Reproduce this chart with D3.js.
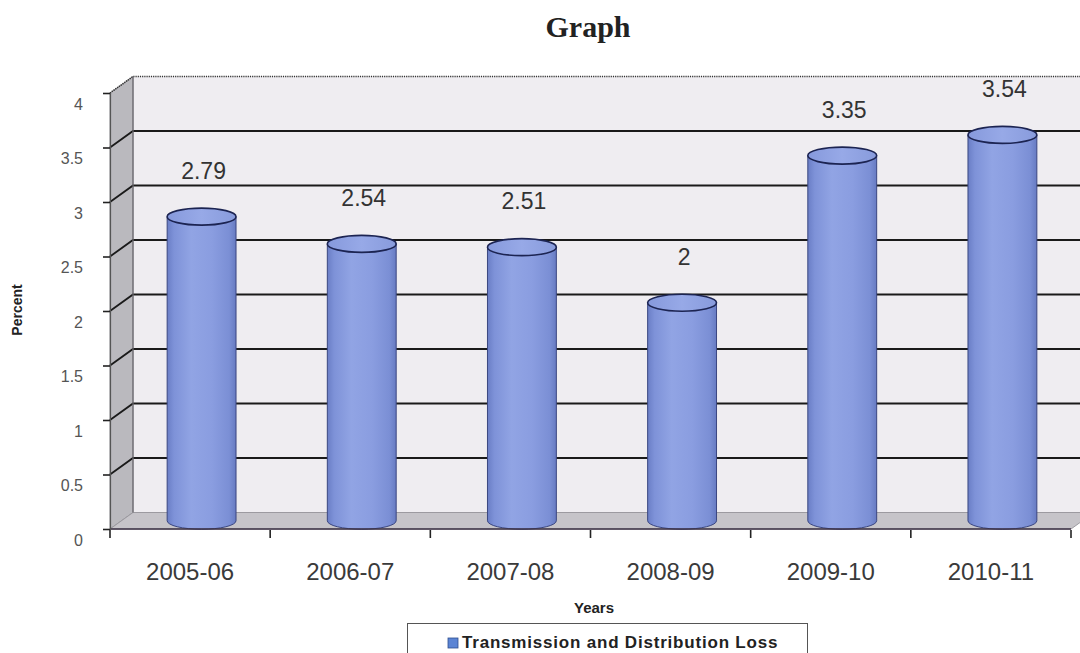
<!DOCTYPE html>
<html>
<head>
<meta charset="utf-8">
<script src="https://cdn.jsdelivr.net/npm/d3@7/dist/d3.min.js"></script>
<style>
  html, body { margin: 0; padding: 0; background: #fff; }
  svg { display: block; }
</style>
</head>
<body>
<svg id="chart" width="1080" height="653"></svg>
<script>
// Transmission and distribution loss by year (percent)
const categories = ["2005-06", "2006-07", "2007-08", "2008-09", "2009-10", "2010-11"];
const lossPercent = [2.79, 2.54, 2.51, 2, 3.35, 3.54];
const yTicks = [0, 0.5, 1, 1.5, 2, 2.5, 3, 3.5, 4];
const yTickLabels = ["0", "0.5", "1", "1.5", "2", "2.5", "3", "3.5", "4"];
const seriesName = "Transmission and Distribution Loss";

const svg = d3.select("#chart");
const W = 1080, H = 653;

// front plane scales
const x = d3.scaleBand().domain(categories).range([110, 1071]).paddingInner(0).paddingOuter(0);
const y = d3.scaleLinear().domain([0, 4]).range([529, 93]);

// 3D depth offset of the back wall
const DX = 23, DY = -16.5;

const defs = svg.append("defs");
const bodyGrad = defs.append("linearGradient").attr("id", "cylBody")
  .attr("x1", "0%").attr("x2", "100%").attr("y1", "0%").attr("y2", "0%");
[[0, "#6a7ec6"], [0.1, "#7e92d8"], [0.35, "#91a4e4"], [0.65, "#8a9de0"], [0.9, "#7b8fd5"], [1, "#677bc2"]]
  .forEach(([o, c]) => bodyGrad.append("stop").attr("offset", o).attr("stop-color", c));
const topGrad = defs.append("linearGradient").attr("id", "cylTop")
  .attr("x1", "0%").attr("x2", "100%").attr("y1", "0%").attr("y2", "0%");
[[0, "#8699dc"], [0.5, "#97a9e7"], [1, "#889bdc"]]
  .forEach(([o, c]) => topGrad.append("stop").attr("offset", o).attr("stop-color", c));

const x0 = x.range()[0], x1 = x.range()[1];
const yTop = y(4), yBot = y(0);

// back wall
svg.append("rect")
  .attr("x", x0 + DX).attr("y", yTop + DY)
  .attr("width", W + 40 - (x0 + DX)).attr("height", yBot - yTop)
  .attr("fill", "#efedf1");

// left side wall
svg.append("polygon")
  .attr("points", [[x0, yTop], [x0 + DX, yTop + DY], [x0 + DX, yBot + DY], [x0, yBot]].map(p => p.join(",")).join(" "))
  .attr("fill", "#bab9be").attr("stroke", "#8a898e").attr("stroke-width", 1);

// floor
svg.append("polygon")
  .attr("points", [[x0, yBot], [x0 + DX, yBot + DY], [x1 + DX, yBot + DY], [x1, yBot]].map(p => p.join(",")).join(" "))
  .attr("fill", "#c6c4c9").attr("stroke", "#9c9aa0").attr("stroke-width", 1);

// gridlines across side wall and back wall
const grid = svg.append("g");
yTicks.filter(t => t > 0 && t < 4).forEach(t => {
  const yy = y(t);
  grid.append("polyline")
    .attr("points", [[x0, yy], [x0 + DX, yy + DY], [W + 40, yy + DY]].map(p => p.join(",")).join(" "))
    .attr("fill", "none").attr("stroke", "#1a1a1a").attr("stroke-width", 1.8);
});
// top edge of the walls
svg.append("polyline")
  .attr("points", [[x0, yTop], [x0 + DX, yTop + DY], [W + 40, yTop + DY]].map(p => p.join(",")).join(" "))
  .attr("fill", "none").attr("stroke", "#333").attr("stroke-width", 1.6).attr("stroke-dasharray", "1.2,1");
// wall corner edge
svg.append("line")
  .attr("x1", x0 + DX).attr("x2", x0 + DX).attr("y1", yTop + DY).attr("y2", yBot + DY)
  .attr("stroke", "#6d6c72").attr("stroke-width", 1.2);

// cylinders
const rx = x.bandwidth() * 0.215, ry = 8.5;
const cx = d => x(d) + x.bandwidth() / 2 + DX / 2;
const yMid = v => y(v) + DY / 2;

const bars = svg.append("g").selectAll("g").data(categories).join("g");
bars.append("path")
  .attr("d", (d, i) => {
    const c = cx(d), t = yMid(lossPercent[i]), b = yMid(0);
    return `M${c - rx},${t} L${c - rx},${b} A${rx},${ry} 0 0 0 ${c + rx},${b} L${c + rx},${t} Z`;
  })
  .attr("fill", "url(#cylBody)").attr("stroke", "#3a4680").attr("stroke-width", 1);
bars.append("ellipse")
  .attr("cx", d => cx(d)).attr("cy", (d, i) => yMid(lossPercent[i]))
  .attr("rx", rx).attr("ry", ry)
  .attr("fill", "url(#cylTop)").attr("stroke", "#1c2452").attr("stroke-width", 1.6);

// value labels
bars.append("text")
  .attr("x", d => cx(d) + 2).attr("y", (d, i) => yMid(lossPercent[i]) - 38)
  .attr("text-anchor", "middle")
  .attr("font-family", "Liberation Sans, Arial, sans-serif").attr("font-size", 23)
  .attr("fill", "#333").text((d, i) => lossPercent[i]);

// front floor edge
svg.append("line").attr("x1", x0).attr("x2", x1).attr("y1", yBot).attr("y2", yBot)
  .attr("stroke", "#3b3045").attr("stroke-width", 1.6);

// y axis
const yAxis = svg.append("g").attr("transform", `translate(${x0},0)`)
  .call(d3.axisLeft(y).tickValues(yTicks).tickFormat((d, i) => yTickLabels[i]).tickSize(7).tickPadding(20));
yAxis.select(".domain").attr("stroke", "#555").attr("stroke-width", 1.2);
yAxis.selectAll(".tick line").attr("stroke", "#222").attr("stroke-width", 1.6);
yAxis.selectAll(".tick text")
  .attr("font-family", "Liberation Sans, Arial, sans-serif").attr("font-size", 16)
  .attr("fill", "#555").attr("dy", "1.0em");

// x axis: labels centred in each band, ticks on band boundaries
const xAxis = svg.append("g").attr("transform", `translate(0,${yBot})`)
  .call(d3.axisBottom(x).tickSize(0).tickPadding(34));
xAxis.select(".domain").remove();
xAxis.selectAll(".tick text")
  .attr("font-family", "Liberation Sans, Arial, sans-serif").attr("font-size", 24)
  .attr("fill", "#3a3a3a");
const bounds = categories.map(c => x(c)).concat([x1]);
svg.append("g").selectAll("line").data(bounds).join("line")
  .attr("x1", d => d).attr("x2", d => d).attr("y1", yBot + 1).attr("y2", yBot + 9)
  .attr("stroke", "#222").attr("stroke-width", 1.6);

// title and axis titles
svg.append("text").attr("x", 588).attr("y", 37).attr("text-anchor", "middle")
  .attr("font-family", "Liberation Serif, Times New Roman, serif").attr("font-weight", "bold")
  .attr("font-size", 30).attr("fill", "#222").text("Graph");
svg.append("text").attr("transform", "translate(22,310) rotate(-90)").attr("text-anchor", "middle")
  .attr("font-family", "Liberation Sans, Arial, sans-serif").attr("font-weight", "bold")
  .attr("font-size", 14).attr("fill", "#222").text("Percent");
svg.append("text").attr("x", 594).attr("y", 613).attr("text-anchor", "middle")
  .attr("font-family", "Liberation Sans, Arial, sans-serif").attr("font-weight", "bold")
  .attr("font-size", 15).attr("fill", "#222").text("Years");

// legend
const legend = svg.append("g");
legend.append("rect").attr("x", 407.5).attr("y", 623.5).attr("width", 400).attr("height", 45)
  .attr("fill", "#fff").attr("stroke", "#555").attr("stroke-width", 1);
legend.append("rect").attr("x", 448).attr("y", 638).attr("width", 10).attr("height", 10)
  .attr("fill", "#5b84d4").attr("stroke", "#2f4f8f").attr("stroke-width", 0.8);
legend.append("text").attr("x", 462).attr("y", 648)
  .attr("font-family", "Liberation Sans, Arial, sans-serif").attr("font-weight", "bold")
  .attr("font-size", 17).attr("letter-spacing", 0.8).attr("fill", "#222").text(seriesName);
</script>
</body>
</html>
